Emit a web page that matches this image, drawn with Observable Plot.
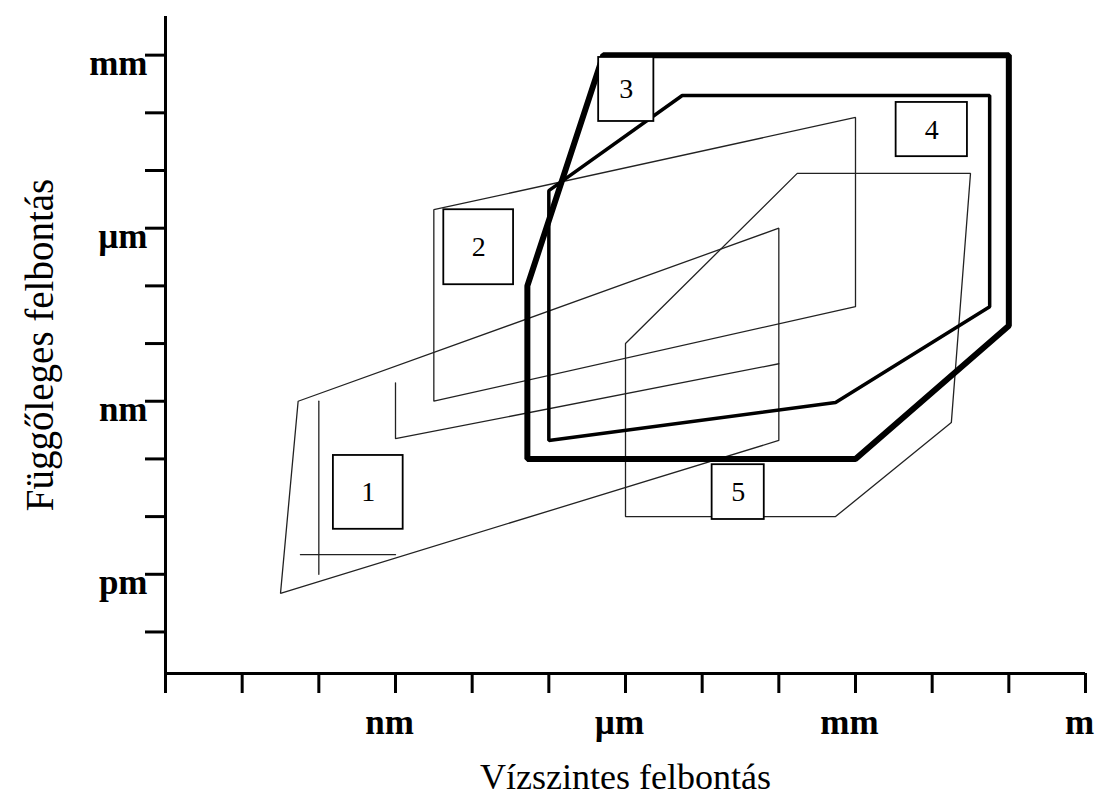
<!DOCTYPE html>
<html>
<head>
<meta charset="utf-8">
<script src="https://cdn.jsdelivr.net/npm/d3@7"></script>
<script src="https://cdn.jsdelivr.net/npm/@observablehq/plot@0.6"></script>
<style>
  html, body { margin: 0; padding: 0; background: #fff; overflow: hidden; }
</style>
</head>
<body>
<div id="chart"></div>
<script>
// Both axes are in log10 of metres: one tick per decade.
const xTickExp = [-12, -11, -10, -9, -8, -7, -6, -5, -4, -3, -2, -1, 0];
const xLabelExp = [-9, -6, -3, 0];
const xLabelText = ["nm", "µm", "mm", "m"];

const yTickExp = [-13, -12, -11, -10, -9, -8, -7, -6, -5, -4, -3];
const yLabelExp = [-12, -9, -6, -3];
const yLabelText = ["pm", "nm", "µm", "mm"];

const xDomain = [-12, 0];
const yDomain = [-13.72, -2.33];

// Resolution regions [horizontal exp, vertical exp], closed outlines.
const region1 = [[-10.27, -9.0], [-4.0, -6.0], [-4.0, -9.68], [-10.5, -12.33]];
const region2 = [[-8.5, -5.68], [-3.0, -4.08], [-3.0, -7.36], [-8.5, -9.0]];
const region3 = [[-7.28, -10.0], [-7.28, -7.0], [-6.29, -3.0], [-1.0, -3.0], [-1.0, -7.69], [-3.0, -10.0]];
const region4 = [[-7.0, -9.68], [-7.0, -5.35], [-5.26, -3.70], [-1.25, -3.70], [-1.25, -7.36], [-3.26, -9.02]];
const region5 = [[-6.0, -11.0], [-6.0, -8.0], [-3.76, -5.05], [-1.5, -5.05], [-1.75, -9.37], [-3.26, -11.0]];

// Open strokes drawn inside region 1.
const region1Inner = [
  [[-10.0, -9.0], [-10.0, -12.0]],
  [[-10.24, -11.66], [-9.0, -11.66]],
  [[-9.0, -8.68], [-9.0, -9.65], [-4.0, -8.35]]
];

// Numbered label boxes (extent in axis units).
const boxIds = ["1", "2", "3", "4", "5"];
const boxX1 = [-9.81, -8.37, -6.35, -2.47, -4.87];
const boxX2 = [-8.90, -7.46, -5.63, -1.54, -4.19];
const boxY1 = [-9.94, -5.68, -3.04, -3.82, -10.10];
const boxY2 = [-11.22, -6.98, -4.15, -4.76, -11.05];

const toRows = (pts, id) => pts.map(([x, y]) => ({x, y, id}));
const boxes = boxIds.map((id, i) => ({
  id, x1: boxX1[i], x2: boxX2[i], y1: boxY1[i], y2: boxY2[i],
  cx: (boxX1[i] + boxX2[i]) / 2, cy: (boxY1[i] + boxY2[i]) / 2
}));
const innerRows = region1Inner.flatMap((pts, i) => toRows(pts, "s" + i));

const serif = "'Liberation Serif', 'DejaVu Serif', serif";
const thin = {stroke: "#222", strokeWidth: 1.3, strokeLinejoin: "miter"};

const regionMark = (pts, id, style) =>
  Plot.line(toRows(pts, id), {x: "x", y: "y", z: "id", curve: "linear-closed", ...style});

const xLabel = d => { const i = xLabelExp.indexOf(d); return i < 0 ? "" : xLabelText[i]; };
const yLabel = d => { const i = yLabelExp.indexOf(d); return i < 0 ? "" : yLabelText[i]; };

const chart = Plot.plot({
  width: 1096,
  height: 798,
  marginLeft: 165,
  marginRight: 11,
  marginTop: 16,
  marginBottom: 125,
  style: {fontFamily: serif, background: "#fff", color: "#000"},
  x: {domain: xDomain},
  y: {domain: yDomain},
  marks: [
    regionMark(region1, "r1", thin),
    Plot.line(innerRows, {x: "x", y: "y", z: "id", ...thin}),
    regionMark(region2, "r2", thin),
    regionMark(region5, "r5", thin),
    regionMark(region4, "r4", {stroke: "#000", strokeWidth: 3.5, strokeLinejoin: "miter"}),
    regionMark(region3, "r3", {stroke: "#000", strokeWidth: 6, strokeLinejoin: "miter"}),

    Plot.rect(boxes, {x1: "x1", x2: "x2", y1: "y1", y2: "y2", fill: "#fff", stroke: "#000", strokeWidth: 1.8}),
    Plot.text(boxes, {x: "cx", y: "cy", text: "id", fontSize: 28, fontFamily: serif, fill: "#000"}),

    // axis lines
    Plot.ruleX([xDomain[0]], {stroke: "#000", strokeWidth: 3}),
    Plot.ruleY([yDomain[0]], {stroke: "#000", strokeWidth: 3}),

    // tick marks
    Plot.axisX({ticks: xTickExp, tickSize: 20, strokeWidth: 3, tickFormat: () => "", label: null}),
    Plot.axisY({ticks: yTickExp, tickSize: 20, strokeWidth: 3, tickFormat: () => "", label: null}),

    // unit labels
    Plot.axisX({
      ticks: xLabelExp, tickSize: 0, tickPadding: 36, dx: -6, tickFormat: xLabel,
      fontSize: 35, fontWeight: "bold", fontFamily: serif, label: null
    }),
    Plot.axisY({
      ticks: yLabelExp, tickSize: 0, tickPadding: 18, dy: 9, tickFormat: yLabel,
      fontSize: 35, fontWeight: "bold", fontFamily: serif, label: null
    }),

    Plot.text(["Vízszintes felbontás"], {
      frameAnchor: "bottom", dy: 104, lineAnchor: "middle", textAnchor: "middle",
      fontSize: 36, fontFamily: serif, fill: "#000"
    }),
    Plot.text(["Függőleges felbontás"], {
      frameAnchor: "left", dx: -125, rotate: -90, lineAnchor: "middle", textAnchor: "middle",
      fontSize: 39, fontFamily: serif, fill: "#000"
    })
  ]
});

document.getElementById("chart").append(chart);
</script>
</body>
</html>
